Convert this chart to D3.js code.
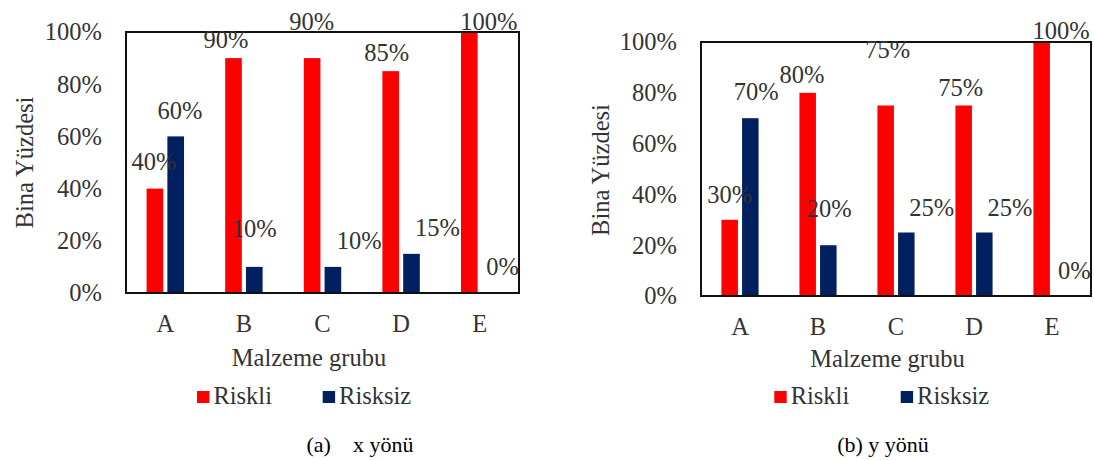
<!DOCTYPE html>
<html>
<head>
<meta charset="utf-8">
<script src="https://cdn.jsdelivr.net/npm/d3@7"></script>
<style>
  html, body { margin: 0; padding: 0; background: #fff; }
  svg { display: block; }
</style>
</head>
<body>
<svg id="chart" width="1094" height="461"></svg>
<script>
// Material groups and the two series
const categories = ["A", "B", "C", "D", "E"];
const seriesNames = ["Riskli", "Risksiz"];

// (a) x direction: share of buildings (%)
const xRiskli  = [40, 90, 90, 85, 100];
const xRisksiz = [60, 10, 10, 15, 0];

// (b) y direction: share of buildings (%)
const yRiskli  = [30, 80, 75, 75, 100];
const yRisksiz = [70, 20, 25, 25, 0];

const yTicks = [0, 20, 40, 60, 80, 100];

const seriesColors = ["#ff0000", "#002060"];
const textColor = "#333";
const fontSize = 24.5;
const serif = "'Liberation Serif', 'Times New Roman', 'DejaVu Serif', serif";

// Hand-placed data-label nudges (dx, dy) from each bar's top-centre, per series
const panels = [
  {
    values: [xRiskli, xRisksiz],
    caption: "(a)\u00a0\u00a0\u00a0\u00a0x yönü",
    captionX: 360, captionY: 452,
    plot: { left: 126, right: 519, top: 32, bottom: 293 },
    yTitle: { x: 33, y: 162.5 },
    xTitle: { x: 309, y: 366 },
    catY: 332,
    legend: [{ x: 197, y: 391 }, { x: 322.7, y: 391 }],
    nudge: [
      [[-1, -18.6], [-7.5, -10], [-0.4, -28], [-4, -9.7], [19.5, -2]],
      [[4.3, -17.4], [0, -30.4], [26.3, -18], [26, -17.4], [12.6, -18]]
    ]
  },
  {
    values: [yRiskli, yRisksiz],
    caption: "(b) y yönü",
    captionX: 883, captionY: 452,
    plot: { left: 701, right: 1091, top: 42, bottom: 296 },
    yTitle: { x: 609, y: 170 },
    xTitle: { x: 887.5, y: 367 },
    catY: 335,
    legend: [{ x: 774.3, y: 391 }, { x: 900.7, y: 391 }],
    nudge: [
      [[0, -16.8], [-5.7, -9.5], [2, -47.2], [-3, -9.5], [19.3, -2.7]],
      [[6, -18.2], [1, -28.7], [25.4, -16.5], [25.7, -16.5], [12, -16.7]]
    ]
  }
];

const svg = d3.select("#chart").style("font-family", serif);

// Serif text helper
function styleText(sel, size, color) {
  return sel.style("font-family", serif)
    .style("font-size", size + "px")
    .attr("fill", color);
}

panels.forEach(p => {
  const g = svg.append("g");
  const { left, right, top, bottom } = p.plot;

  const x = d3.scaleBand().domain(categories).range([left, right]).padding(0);
  const xs = d3.scaleBand().domain(seriesNames).range([0, x.bandwidth()])
    .paddingInner(0.2).paddingOuter(0.99);
  const y = d3.scaleLinear().domain([0, 100]).range([bottom, top]);

  // Bars
  seriesNames.forEach((s, si) => {
    g.append("g").selectAll("rect")
      .data(p.values[si])
      .join("rect")
      .attr("x", (d, i) => x(categories[i]) + xs(s))
      .attr("y", d => y(d))
      .attr("width", xs.bandwidth())
      .attr("height", d => y(0) - y(d))
      .attr("fill", seriesColors[si]);
  });

  // Plot-area frame
  g.append("rect")
    .attr("x", left).attr("y", top)
    .attr("width", right - left).attr("height", bottom - top)
    .attr("fill", "none").attr("stroke", "#111").attr("stroke-width", 2);

  // Y axis: percentage labels, no line or ticks
  const yAxis = d3.axisLeft(y).tickValues(yTicks)
    .tickFormat(d => d + "%").tickSize(0).tickPadding(24);
  const ya = g.append("g").attr("transform", `translate(${left},0)`).call(yAxis);
  ya.attr("font-family", null).attr("font-size", null);
  ya.select(".domain").remove();
  styleText(ya.selectAll("text"), fontSize, textColor);

  // X axis: category letters
  const xAxis = d3.axisBottom(x).tickSize(0).tickPadding(0);
  const xa = g.append("g").attr("transform", `translate(0,${p.catY})`).call(xAxis);
  xa.attr("font-family", null).attr("font-size", null);
  xa.select(".domain").remove();
  styleText(xa.selectAll("text").attr("y", 0).attr("dy", 0), fontSize, textColor);

  // Data labels
  seriesNames.forEach((s, si) => {
    styleText(g.append("g").selectAll("text")
      .data(p.values[si])
      .join("text")
      .attr("x", (d, i) => x(categories[i]) + xs(s) + xs.bandwidth() / 2 + p.nudge[si][i][0])
      .attr("y", (d, i) => y(d) + p.nudge[si][i][1])
      .attr("text-anchor", "middle")
      .text(d => d + "%"), fontSize, textColor);
  });

  // Axis titles
  styleText(g.append("text")
    .attr("transform", `translate(${p.yTitle.x},${p.yTitle.y}) rotate(-90)`)
    .attr("text-anchor", "middle")
    .text("Bina Yüzdesi"), fontSize, textColor);

  styleText(g.append("text")
    .attr("x", p.xTitle.x).attr("y", p.xTitle.y)
    .attr("text-anchor", "middle")
    .text("Malzeme grubu"), fontSize, textColor);

  // Legend
  seriesNames.forEach((s, si) => {
    const lg = g.append("g");
    lg.append("rect")
      .attr("x", p.legend[si].x).attr("y", p.legend[si].y)
      .attr("width", 12.4).attr("height", 12)
      .attr("fill", seriesColors[si]);
    styleText(lg.append("text")
      .attr("x", p.legend[si].x + 16.4).attr("y", p.legend[si].y + 12.5)
      .text(s), fontSize, textColor);
  });

  // Caption
  styleText(g.append("text")
    .attr("x", p.captionX).attr("y", p.captionY)
    .attr("text-anchor", "middle")
    .text(p.caption), 22, "#000");
});
</script>
</body>
</html>
